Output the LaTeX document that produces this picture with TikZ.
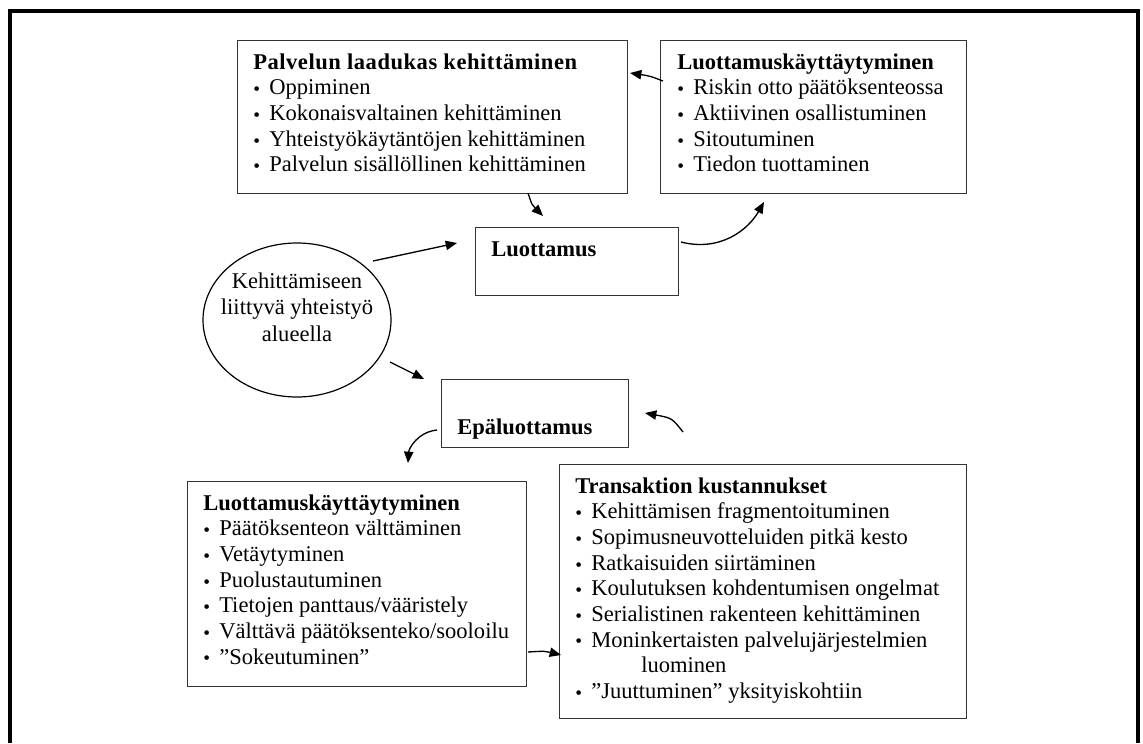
\documentclass[tikz,border=0pt]{standalone}
\usepackage{fontspec}
\setmainfont{Liberation Serif}
\usetikzlibrary{arrows.meta,shapes.geometric}
\newcommand{\itm}{\makebox[12pt][l]{\raisebox{-0.6pt}{\fontsize{14.5}{14.5}\selectfont\textbullet}}}
\newcommand{\strt}{\rule{0pt}{15pt}}
\begin{document}
\begin{tikzpicture}[x=0.75pt,y=-0.75pt,
  box/.style={draw=black!80, line width=0.9pt, rectangle, inner sep=0pt, anchor=north west},
  txt/.style={inner sep=0pt, anchor=north west, align=left, font=\fontsize{16.9}{19.24}\selectfont},
  lbl/.style={inner sep=0pt, anchor=base west, font=\fontsize{16.9}{19.24}\selectfont\bfseries},
  arr/.style={draw=black, line width=1pt, -{Triangle[length=8.5pt,width=7pt]}},
]
\useasboundingbox (0,0) rectangle (1143,743);
\fill[white] (0,0) rectangle (1143,743);
\draw[line width=3pt] (9.5,743) -- (9.5,11) -- (1137.5,11) -- (1137.5,743);

% top left box
\node[box, minimum width=390*0.75pt, minimum height=153*0.75pt] (b1) at (237,40) {};
\node[txt] (b1t) at (253,49) {\strt{\addfontfeatures{LetterSpace=2.4}\textbf{Palvelun laadukas kehittäminen}}\\
\itm Oppiminen\\
\itm Kokonaisvaltainen kehittäminen\\
\itm Yhteistyökäytäntöjen kehittäminen\\
\itm Palvelun sisällöllinen kehittäminen};

% top right box
\node[box, minimum width=306*0.75pt, minimum height=153*0.75pt] (b2) at (660,40) {};
\node[txt] (b2t) at (677,49) {\strt\textbf{Luottamuskäyttäytyminen}\\
\itm Riskin otto päätöksenteossa\\
\itm Aktiivinen osallistuminen\\
\itm Sitoutuminen\\
\itm Tiedon tuottaminen};

% Luottamus
\node[box, minimum width=203*0.75pt, minimum height=68*0.75pt] (lu) at (475,227) {};
\node[lbl] (lut) at (491,256) {Luottamus};

% Epaluottamus
\node[box, minimum width=187*0.75pt, minimum height=68*0.75pt] (ep) at (441,379) {};
\node[lbl] (ept) at (457,434) {Epäluottamus};

% ellipse
\node[ellipse, draw=black, line width=0.9pt, inner sep=0pt, minimum width=188*0.75pt, minimum height=154*0.75pt] (el) at (297,320) {};
\node[inner sep=0pt, anchor=north, align=center, font=\fontsize{16.9}{19.9}\selectfont] (elt) at (297,268) {\strt Kehittämiseen\\liittyvä yhteistyö\\alueella};

% bottom left box
\node[box, minimum width=339*0.75pt, minimum height=205*0.75pt] (b3) at (187,481) {};
\node[txt] (b3t) at (203,490) {\strt\textbf{Luottamuskäyttäytyminen}\\
\itm Päätöksenteon välttäminen\\
\itm Vetäytyminen\\
\itm Puolustautuminen\\
\itm Tietojen panttaus/vääristely\\
\itm Välttävä päätöksenteko/sooloilu\\
\itm ”Sokeutuminen”};

% transaction box
\node[box, minimum width=407*0.75pt, minimum height=254*0.75pt] (b4) at (559,464) {};
\node[txt] (b4t) at (575,473) {\strt\textbf{Transaktion kustannukset}\\
\itm Kehittämisen fragmentoituminen\\
\itm Sopimusneuvotteluiden pitkä kesto\\
\itm Ratkaisuiden siirtäminen\\
\itm Koulutuksen kohdentumisen ongelmat\\
\itm Serialistinen rakenteen kehittäminen\\
\itm Moninkertaisten palvelujärjestelmien\\
\hspace*{49.5pt}luominen\\
\itm ”Juuttuminen” yksityiskohtiin};

% connector end points
\coordinate (a1s) at (663,81);  \coordinate (a1e) at (630,73);
\coordinate (a2s) at (528,193); \coordinate (a2e) at (543,216);
\coordinate (a3s) at (681,242); \coordinate (a3e) at (764,202);
\coordinate (a4s) at (373,261); \coordinate (a4e) at (457,243);
\coordinate (a5s) at (390,362); \coordinate (a5e) at (424,379);
\coordinate (a6s) at (437,430); \coordinate (a6e) at (408,463);
\coordinate (a7s) at (683,432); \coordinate (a7e) at (645,413);
\coordinate (a8s) at (528,652); \coordinate (a8e) at (561,655);

\draw[arr] (a1s) .. controls (650,76) .. (a1e);
\draw[arr] (a2s) .. controls (532,205) .. (a2e);
\draw[arr] (a3s) .. controls (720,252) and (748,230) .. (a3e);
\draw[arr] (a4s) -- (a4e);
\draw[arr] (a5s) -- (a5e);
\draw[arr] (a6s) .. controls (418,432) and (409,448) .. (a6e);
\draw[arr] (a7s) .. controls (672,418) .. (a7e);
\draw[arr] (a8s) .. controls (545,651) .. (a8e);
\end{tikzpicture}
\end{document}
